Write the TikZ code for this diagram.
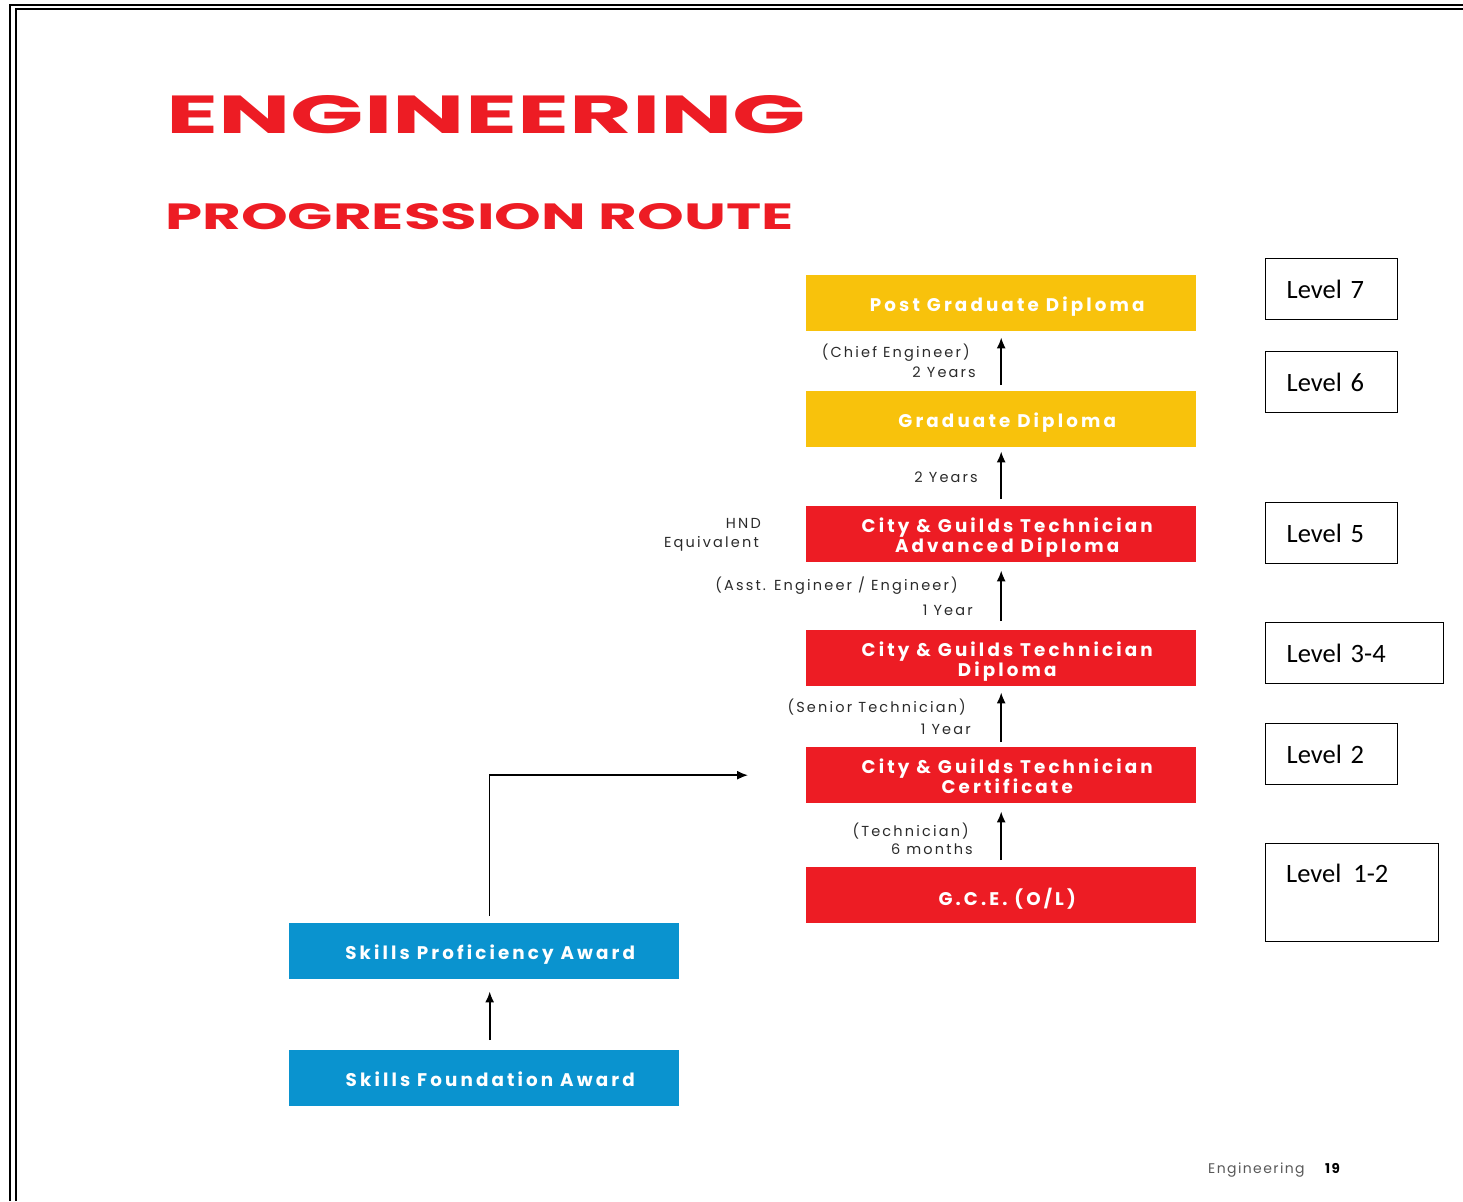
\documentclass[tikz,border=0pt]{standalone}
\usepackage{fontspec}
\usepackage{graphicx}
\setmainfont{Poppins}
\newfontfamily\calib{Carlito}
\newfontfamily\boxfont[LetterSpace=17]{Poppins}
\newfontfamily\labfont[LetterSpace=15]{Poppins}
\newfontfamily\footfont[LetterSpace=10]{Poppins}
\usetikzlibrary{arrows.meta}
\definecolor{ered}{HTML}{ED1C24}
\definecolor{eyel}{HTML}{F8C20C}
\definecolor{eblue}{HTML}{0A93CF}
\definecolor{labgray}{HTML}{2A2A2A}
\newcommand\bxtext[1]{\raisebox{-4pt}[\height][\depth]{\begin{tabular}{@{\hspace{12pt}}c@{}}#1\end{tabular}}}
\begin{document}
\begin{tikzpicture}[x=1pt,y=-1pt,
  box/.style={minimum width=390, minimum height=56, inner sep=0pt, anchor=north west,
    text=white, font=\boxfont\fontsize{18.3}{18}\selectfont\bfseries, align=center},
  redbox/.style={box, fill=ered},
  yelbox/.style={box, fill=eyel},
  bluebox/.style={box, fill=eblue},
  lvl/.style={draw, line width=1.4pt, anchor=north west, inner xsep=21, inner ysep=0,
    minimum height=61, align=left, font=\calib\fontsize{26.5}{30}\selectfont},
  arr/.style={-{Latex[length=11pt,width=9pt]}, line width=1.8pt},
  lab/.style={font=\labfont\fontsize{14.5}{16}\selectfont, anchor=base east, text=labgray, inner sep=0}
]
\useasboundingbox (0,0) rectangle (1463,1201);
% page frame
\draw[line width=2pt] (10,1201) -- (10,5) -- (1463,5);
\draw[line width=1.4pt] (16,1201) -- (16,9) -- (1463,9);

% titles
\node[anchor=north west, inner sep=0, text=ered] (title) at (166,95)
  {\resizebox{640pt}{38pt}{\bfseries ENGINEERING}};
\node[anchor=north west, inner sep=0, text=ered] (subtitle) at (165,203)
  {\resizebox{628pt}{26pt}{\bfseries PROGRESSION ROUTE}};

% main column
\node[yelbox] (pg) at (806,275) {\bxtext{Post Graduate Diploma}};
\node[yelbox] (gd) at (806,391) {\bxtext{Graduate Diploma}};
\node[redbox] (adv) at (806,506) {\bxtext{City \& Guilds Technician\\Advanced Diploma}};
\node[redbox] (dip) at (806,630) {\bxtext{City \& Guilds Technician\\Diploma}};
\node[redbox] (cert) at (806,747) {\bxtext{City \& Guilds Technician\\Certificate}};
\node[redbox] (gce) at (806,867) {\bxtext{G.C.E. (O/L)}};

% skills column
\node[bluebox] (spa) at (289,923) {\bxtext{Skills Proficiency Award}};
\node[bluebox] (sfa) at (289,1050) {\bxtext{Skills Foundation Award}};

% arrows
\draw[arr, shorten <=6pt, shorten >=6pt] (gd.north) -- (pg.south);
\draw[arr, shorten <=7pt, shorten >=4pt] (adv.north) -- (gd.south);
\draw[arr, shorten <=9pt, shorten >=8pt] (dip.north) -- (adv.south);
\draw[arr, shorten <=5pt, shorten >=6pt] (cert.north) -- (dip.south);
\draw[arr, shorten <=7pt, shorten >=8pt] (gce.north) -- (cert.south);
\draw[arr, shorten <=10pt, shorten >=12pt] ([xshift=5.5pt]sfa.north) -- ([xshift=5.5pt]spa.south);
\coordinate (certin) at ([xshift=-58pt]cert.west);
\draw[arr, line width=1.5pt] ([xshift=5.5pt,yshift=7pt]spa.north) |- (certin);

% labels
\node[lab] (l1a) at (970,357) {(Chief Engineer)};
\node[lab] (l1b) at (976,377) {2 Years};
\node[lab] (l2) at (978,482) {2 Years};
\node[lab] (hnd1) at (761,528) {HND};
\node[lab] (hnd2) at (759,547) {Equivalent};
\node[lab] (l3a) at (958,590) {(Asst. Engineer / Engineer)};
\node[lab] (l3b) at (973,615) {1 Year};
\node[lab] (l4a) at (966,712) {(Senior Technician)};
\node[lab] (l4b) at (971,734) {1 Year};
\node[lab] (l5a) at (969,836) {(Technician)};
\node[lab] (l5b) at (973,854) {6 months};

% level boxes
\node[lvl, text width=90] (lv7) at (1265,258) {Level 7};
\node[lvl, text width=90] (lv6) at (1265,351) {Level 6};
\node[lvl, text width=90] (lv5) at (1265,502) {Level 5};
\node[lvl, text width=136] (lv34) at (1265,622) {Level 3-4};
\node[lvl, text width=90] (lv2) at (1265,723) {Level 2};
\node[draw, line width=1.4pt, anchor=north west, minimum width=173, minimum height=98, inner sep=0] (lv12) at (1265,843) {};
\node[anchor=base west, inner sep=0, font=\calib\fontsize{26.5}{30}\selectfont] (lv12t) at (1286,882) {Level\ \ 1-2};

% footer
\node[anchor=base west, inner sep=0, font=\footfont\fontsize{14}{15}\selectfont, text=black!65] (foot) at (1208,1173) {Engineering};
\node[anchor=base west, inner sep=0, font=\footfont\fontsize{13.5}{15}\selectfont\bfseries] (page) at (1325,1173) {19};
\end{tikzpicture}
\end{document}
